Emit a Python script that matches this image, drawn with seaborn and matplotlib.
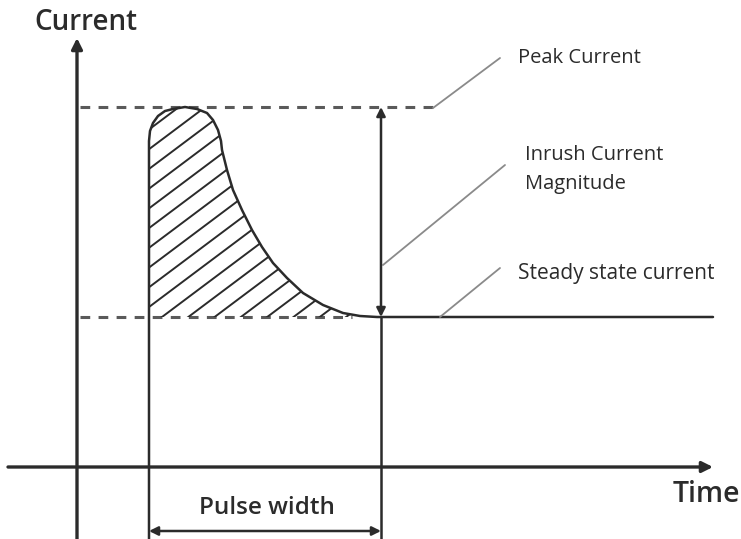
import numpy as np
import matplotlib
matplotlib.use('Agg')
import matplotlib.pyplot as plt
from matplotlib.patches import Polygon
import pandas as pd
import seaborn as sns

# Pulse shape (time, current), arbitrary units
pulse_time = [72, 73, 76, 81, 88, 96, 108, 120, 130, 136, 141, 144, 145, 150, 156,
              165, 175, 185, 196, 210, 226, 246, 266, 283, 300, 304]
pulse_current = [326, 336, 344, 351, 356, 358, 360, 358, 354, 347, 337, 326, 317, 297, 277,
                 257, 237, 220, 204, 189, 174, 162, 154, 151, 150, 150]

peak_current = 360
steady_current = 150
pulse_start = 72
pulse_end = 304
time_end = 636

labels = ['Peak Current', 'Inrush Current\nMagnitude', 'Steady state current']
axis_labels = ['Current', 'Time']
width_label = 'Pulse width'

sns.set_theme(style='white')
plt.rcParams['font.family'] = ['Open Sans', 'DejaVu Sans']
plt.rcParams['lines.scale_dashes'] = False

fig = plt.figure(figsize=(7.41, 5.39), dpi=100)
ax = fig.add_axes([0, 0, 1, 1])
ax.set_xlim(-77, 664)
ax.set_ylim(-72, 467)
ax.axis('off')

dark = '#2b2b2b'
grey = '#5a5a5a'
lead = '#8a8a8a'

# axes with arrow heads
ax.annotate('', xy=(0, 429), xytext=(0, -72),
            arrowprops=dict(arrowstyle='-|>', lw=2.4, color=dark, mutation_scale=16,
                            shrinkA=0, shrinkB=0))
ax.annotate('', xy=(636, 0), xytext=(-69, 0),
            arrowprops=dict(arrowstyle='-|>', lw=2.4, color=dark, mutation_scale=16,
                            shrinkA=0, shrinkB=0))

# dashed reference levels
ax.plot([3, 358], [peak_current, peak_current], color=grey, lw=2.2, ls=(0, (7, 6)))
ax.plot([3, 275], [steady_current, steady_current], color=grey, lw=2.2, ls=(0, (7, 6)))

# pulse curve
df = pd.DataFrame({'time': [pulse_start] + pulse_time + [time_end],
                   'current': [-72] + pulse_current + [steady_current]})
sns.lineplot(data=df, x='time', y='current', estimator=None, sort=False,
             color=dark, lw=1.8, ax=ax, solid_joinstyle='round')

# hatched area under the pulse
poly_pts = list(zip(pulse_time, pulse_current)) + [(pulse_end, steady_current), (pulse_start, steady_current)]
clip = Polygon(poly_pts, closed=True, facecolor='none', edgecolor='none')
ax.add_patch(clip)
slope = 0.75
for c in np.arange(85 - 26.3 * 14, 320, 26.3):
    xs = np.array([pulse_start - 20, pulse_end + 20])
    ln, = ax.plot(xs, steady_current + slope * (xs - c), color=dark, lw=1.4)
    ln.set_clip_path(clip)

# vertical guides and magnitude arrow
ax.plot([pulse_end, pulse_end], [-72, steady_current], color=dark, lw=1.8)
ax.annotate('', xy=(pulse_end, peak_current), xytext=(pulse_end, steady_current),
            arrowprops=dict(arrowstyle='<|-|>', lw=1.8, color=dark, mutation_scale=13,
                            shrinkA=0, shrinkB=0))

# pulse width arrow
ax.annotate('', xy=(pulse_end, -64), xytext=(pulse_start, -64),
            arrowprops=dict(arrowstyle='<|-|>', lw=1.8, color=dark, mutation_scale=13,
                            shrinkA=0, shrinkB=0))
ax.text(190, -41, width_label, ha='center', va='center', fontsize=17.5,
        fontweight='semibold', color=dark)

# leader lines and labels
ax.plot([356, 423], [359, 409], color=lead, lw=1.3)
ax.plot([306, 428], [202, 302], color=lead, lw=1.3)
ax.plot([363, 423], [150, 199], color=lead, lw=1.3)
ax.text(441, 409, labels[0], ha='left', va='center', fontsize=14.5, color=dark)
ax.text(448, 297, labels[1], ha='left', va='center', fontsize=14.5, color=dark, linespacing=1.6)
ax.text(441, 194, labels[2], ha='left', va='center', fontsize=15, color=dark)

ax.text(9, 445, axis_labels[0], ha='center', va='center', fontsize=20,
        fontweight='semibold', color=dark)
ax.text(629, -28, axis_labels[1], ha='center', va='center', fontsize=20.5,
        fontweight='semibold', color=dark)

fig.savefig('out.png', dpi=100, facecolor='white')
